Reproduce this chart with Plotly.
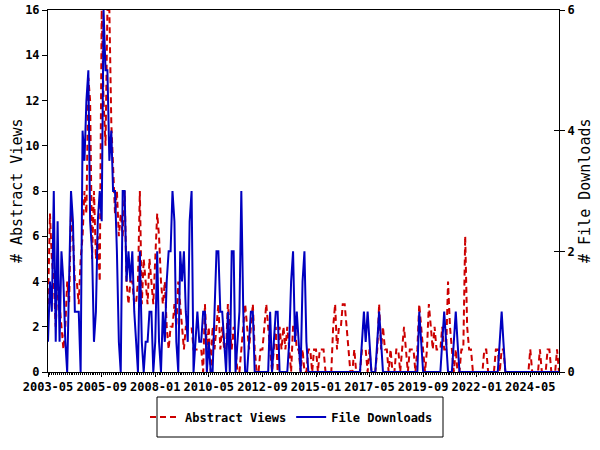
import pandas as pd
import plotly.graph_objects as go

start_month = "2003-05-01"

abstract_views = [
    3, 7, 5, 4, 2, 4, 3, 2, 1, 2,
    4, 3, 7, 6, 4, 4, 3, 5, 6, 8,
    7, 13, 12, 5, 8, 5, 6, 4, 16, 12,
    10, 16, 16, 11, 9, 7, 8, 6, 7, 6,
    8, 4, 3, 4, 4, 3, 3, 4, 8, 3,
    5, 4, 3, 5, 4, 3, 5, 7, 6, 4,
    3, 4, 2, 1, 2, 2, 3, 2, 4, 3,
    2, 1, 2, 2, 2, 2, 1, 1, 1, 1,
    1, 0, 3, 1, 2, 0, 2, 1, 2, 3,
    1, 2, 1, 1, 3, 2, 1, 2, 1, 0,
    0, 1, 2, 3, 2, 1, 2, 3, 1, 0,
    0, 1, 1, 2, 3, 2, 1, 0, 1, 2,
    0, 2, 1, 2, 1, 2, 1, 0, 2, 2,
    1, 1, 0, 1, 0, 0, 1, 1, 0, 1,
    1, 0, 1, 1, 1, 0, 0, 0, 0, 2,
    3, 1, 2, 2, 3, 3, 2, 1, 0, 0,
    1, 0, 0, 0, 1, 1, 1, 0, 1, 0,
    0, 0, 1, 3, 1, 2, 1, 1, 0, 1,
    0, 0, 1, 1, 0, 1, 2, 1, 0, 1,
    1, 1, 0, 1, 3, 2, 1, 0, 1, 3,
    2, 1, 2, 1, 1, 1, 2, 1, 1, 4,
    2, 1, 0, 1, 0, 0, 1, 1, 6, 2,
    1, 1, 0, 0, 0, 0, 0, 0, 1, 1,
    0, 0, 0, 0, 1, 1, 0, 1, 1, 0,
    0, 0, 0, 0, 0, 0, 0, 0, 0, 0,
    0, 0, 1, 0, 0, 0, 0, 1, 0, 0,
    0, 1, 1, 0, 0, 0, 1, 0,
]

file_downloads = [
    0.5, 1.5, 1.0, 3.0, 0.5, 2.5, 0.5, 2.0, 1.5, 0.5,
    0, 1.5, 3.0, 2.5, 1.0, 1.0, 1.0, 0, 4.0, 3.5,
    4.5, 5.0, 2.5, 2.0, 0.5, 1.0, 2.5, 3.0, 2.5, 6.0,
    5.0, 5.0, 3.5, 4.0, 3.0, 3.0, 2.0, 0.5, 0, 3.0,
    3.0, 1.5, 2.0, 1.5, 2.0, 1.0, 0.5, 0, 2.0, 0.5,
    0, 0.5, 0.5, 1.0, 1.0, 0, 0.5, 2.0, 0.5, 0,
    1.0, 0.5, 1.5, 2.0, 2.0, 3.0, 2.5, 0.5, 0, 2.0,
    1.5, 2.0, 1.0, 0.5, 2.5, 3.0, 0, 0.5, 1.0, 0.5,
    0.5, 1.0, 1.0, 0, 0.5, 0, 0, 1.0, 2.0, 2.0,
    1.0, 1.0, 0.5, 0, 1.0, 0, 2.0, 2.0, 0, 0.5,
    1.0, 3.0, 1.0, 0, 0, 0.5, 1.0, 1.0, 0, 0,
    0, 0, 0, 0, 0, 0, 1.0, 0, 0.5, 1.0,
    1.0, 0, 0, 0, 0, 0, 0.5, 1.5, 2.0, 0.5,
    1.0, 0.5, 0, 1.5, 2.0, 0.5, 0, 0, 0, 0,
    0, 0, 0, 0, 0, 0, 0, 0, 0, 0,
    0, 0, 0, 0, 0, 0, 0, 0, 0, 0,
    0, 0, 0, 0, 0.5, 1.0, 0.5, 1.0, 0.5, 0,
    0, 0, 0.5, 1.0, 0.5, 0, 0, 0, 0, 0,
    0, 0, 0, 0, 0, 0, 0, 0, 0, 0,
    0, 0, 0, 0, 1.0, 0.5, 0, 0, 0, 0,
    0, 0, 0, 0, 0, 0, 0.5, 1.0, 0.5, 0,
    0, 0, 0.5, 1.0, 0.5, 0, 0, 0, 0, 0,
    0, 0, 0, 0, 0, 0, 0, 0, 0, 0,
    0, 0, 0, 0, 0, 0, 0.5, 1.0, 0.5, 0,
    0, 0, 0, 0, 0, 0, 0, 0, 0, 0,
    0, 0, 0, 0, 0, 0, 0, 0, 0, 0,
    0, 0, 0, 0, 0, 0, 0, 0,
]

months = pd.date_range(start_month, periods=len(abstract_views), freq="MS")

FONT = "DejaVu Sans Mono"
RED = "#cc0000"
BLUE = "#0000c0"

PW = 511   # plot width (x 48..559)
PH = 362   # plot height (y 10..372)

fig = go.Figure()
fig.add_trace(go.Scatter(
    x=months, y=abstract_views, name="Abstract Views", mode="lines",
    line=dict(color=RED, width=2, dash="6px,4px"), yaxis="y",
))
fig.add_trace(go.Scatter(
    x=months, y=file_downloads, name="File Downloads", mode="lines",
    line=dict(color=BLUE, width=2), yaxis="y2",
))
# invisible trace on a helper axis that draws the inward ticks of the right axis
fig.add_trace(go.Scatter(
    x=months, y=file_downloads, mode="lines", showlegend=False, hoverinfo="skip",
    line=dict(color="rgba(0,0,0,0)", width=0), yaxis="y3",
))

axis_font = dict(family=FONT, size=12, color="black", weight="bold")
title_font = dict(family=FONT, size=15, color="black")

fig.update_layout(
    width=600, height=450,
    margin=dict(l=48, r=41, t=10, b=78, autoexpand=False),
    paper_bgcolor="white", plot_bgcolor="white",
    font=dict(family=FONT, color="black"),
    showlegend=True,
    legend=dict(
        orientation="h", x=0.5 - 12 / PW, xanchor="center",
        y=(372 - 417) / PH, yanchor="middle",
        borderwidth=0, bgcolor="rgba(0,0,0,0)",
        font=dict(family=FONT, size=12, color="black", weight="bold"),
        itemwidth=30,
    ),
    xaxis=dict(
        type="date", range=[months[0], months[-1]], automargin=False,
        tick0=start_month, dtick="M28", tickformat="%Y-%m",
        ticks="outside", ticklen=4, tickcolor="black",
        minor=dict(dtick="M1", ticks="outside", ticklen=2, tickcolor="black"),
        showline=True, linecolor="black", linewidth=1, mirror=True,
        showgrid=False, zeroline=False, tickfont=axis_font,
        ticklabeloverflow="allow",
    ),
    yaxis=dict(
        range=[0, 16], dtick=2, ticks="outside", ticklen=5, tickcolor="black",
        showline=True, linecolor="black", linewidth=1, automargin=False,
        showgrid=False, zeroline=False, tickfont=axis_font,
        ticklabeloverflow="allow",
    ),
    yaxis2=dict(
        range=[0, 6], dtick=2, ticks="outside", ticklen=5, tickcolor="black",
        overlaying="y", side="right", automargin=False,
        showline=True, linecolor="black", linewidth=1,
        showgrid=False, zeroline=False, tickfont=axis_font,
        ticklabeloverflow="allow",
    ),
    yaxis3=dict(
        range=[0, 6], dtick=2, ticks="inside", ticklen=5, tickcolor="black",
        overlaying="y", side="right", automargin=False,
        showline=False, showticklabels=False,
        showgrid=False, zeroline=False,
    ),
    annotations=[
        dict(text="# Abstract Views", xref="paper", yref="paper",
             x=(17 - 48) / PW, y=0.5, xanchor="center", yanchor="middle",
             textangle=-90, showarrow=False, font=title_font),
        dict(text="# File Downloads", xref="paper", yref="paper",
             x=(585 - 48) / PW, y=0.5, xanchor="center", yanchor="middle",
             textangle=-90, showarrow=False, font=title_font),
    ],
    shapes=[
        dict(type="rect", xref="paper", yref="paper",
             x0=(157 - 48) / PW, x1=(443 - 48) / PW,
             y0=(372 - 437) / PH, y1=(372 - 397) / PH,
             line=dict(color="black", width=1), fillcolor="rgba(0,0,0,0)"),
    ],
)

# remove the browser's default 8 px body margin so the 600x450 figure fills the window
fig.write_html(
    "out.html",
    config={"displayModeBar": False},
    post_script="document.body.style.margin='0px';",
)
